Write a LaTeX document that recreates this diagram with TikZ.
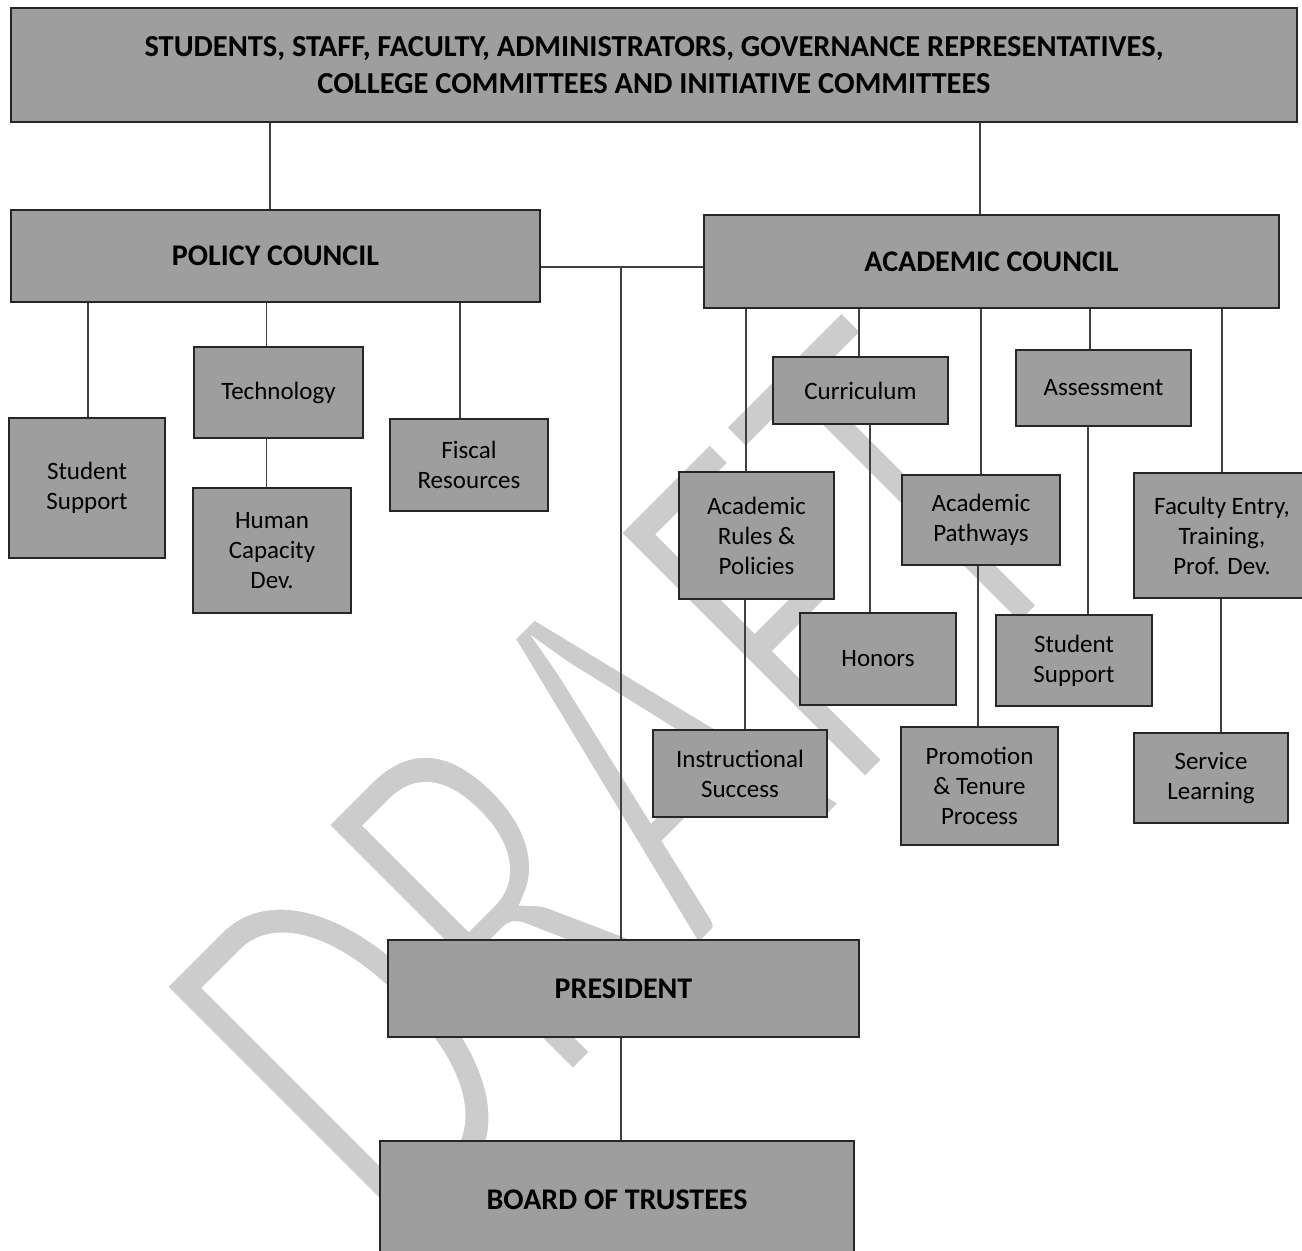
\documentclass[tikz,border=0pt]{standalone}
\usepackage{fontspec}
\usepackage{graphicx}
\setmainfont{Carlito}
\usetikzlibrary{calc}
\definecolor{boxgray}{gray}{0.62}
\definecolor{wmgray}{gray}{0.80}
\begin{document}
\begin{tikzpicture}[x=1pt,y=-1pt,
  box/.style={draw=black!85, line width=2.6pt, fill=boxgray, inner sep=0pt, align=center, text=black},
  lbl/.style={box, font=\fontsize{25}{30}\selectfont},
  head/.style={box, font=\fontsize{30}{37}\selectfont\bfseries},
  conn/.style={draw=black!75, line width=1.2pt},
]
\useasboundingbox (0,0) rectangle (1302,1251);
\fill[white] (0,0) rectangle (1302,1251);
\clip (0,0) rectangle (1302,1251);

% watermark (thin, condensed letters)
\node[text=wmgray, rotate=45, inner sep=0pt] (wm) at (619,779)
  {\fontsize{560}{560}\selectfont\scalebox{0.66}[1]{\special{pdf:literal direct 2 Tr 1 1 1 RG 16 w}DRAFT\special{pdf:literal direct 0 Tr}}};

% boxes
\node[head, font=\fontsize{30.5}{37}\selectfont\bfseries, minimum width=1286pt, minimum height=114pt] (top) at (654,65)
  {STUDENTS, STAFF, FACULTY, ADMINISTRATORS, GOVERNANCE REPRESENTATIVES,\\COLLEGE COMMITTEES AND INITIATIVE COMMITTEES};
\node[head, minimum width=529pt, minimum height=92pt] (policy) at (275.5,256) {POLICY COUNCIL};
\node[head, minimum width=575pt, minimum height=93pt] (academic) at (991.5,261.5) {ACADEMIC COUNCIL};

\node[lbl, minimum width=156pt, minimum height=140pt] (ss1) at (87,488) {Student\\Support};
\node[lbl, minimum width=169pt, minimum height=91pt] (tech) at (278.5,392.5) {Technology};
\node[lbl, minimum width=158pt, minimum height=125pt] (human) at (272,550.5) {Human\\Capacity\\Dev.};
\node[lbl, minimum width=158pt, minimum height=92pt] (fiscal) at (469,465) {Fiscal\\Resources};

\node[lbl, minimum width=175pt, minimum height=67pt] (curr) at (860.5,390.5) {Curriculum};
\node[lbl, minimum width=175pt, minimum height=76pt] (assess) at (1103.5,388) {Assessment};
\node[lbl, minimum width=155pt, minimum height=127pt] (rules) at (756.5,535.5) {Academic\\Rules \&\\Policies};
\node[lbl, minimum width=158pt, minimum height=90pt] (pathw) at (981,520) {Academic\\Pathways};
\node[lbl, minimum width=176pt, minimum height=125pt] (fac) at (1222,535.5) {Faculty Entry,\\Training,\\Prof. Dev.};
\node[lbl, minimum width=156pt, minimum height=92pt] (honors) at (878,659) {Honors};
\node[lbl, minimum width=156pt, minimum height=91pt] (ss2) at (1074,660.5) {Student\\Support};
\node[lbl, minimum width=174pt, minimum height=87pt] (instr) at (740,773.5) {Instructional\\Success};
\node[lbl, minimum width=157pt, minimum height=118pt] (promo) at (979.5,786) {Promotion\\\& Tenure\\Process};
\node[lbl, minimum width=154pt, minimum height=90pt] (service) at (1211,778) {Service\\Learning};

\node[head, minimum width=471pt, minimum height=97pt] (pres) at (623.5,988.5) {PRESIDENT};
\node[head, minimum width=474pt, minimum height=118pt] (board) at (617,1200) {BOARD OF TRUSTEES};

\coordinate (hub) at (621,267);

% connectors
\draw[conn] ([xshift=-5.5pt]policy.north) -- ([xshift=-5.5pt]policy.north |- top.south);
\draw[conn] ([xshift=-11.5pt]academic.north) -- ([xshift=-11.5pt]academic.north |- top.south);
\draw[conn] (policy.east |- hub) -- (academic.west |- hub);
\draw[conn] (hub) -- (hub |- pres.north);
\draw[conn] (pres.south -| hub) -- (board.north -| hub);

\draw[conn] ([xshift=1pt]ss1.north) -- ([xshift=1pt]ss1.north |- policy.south);
\draw[conn] ([xshift=-12pt]tech.north) -- ([xshift=-12pt]tech.north |- policy.south);
\draw[conn] ([xshift=-12pt]tech.south) -- ([xshift=-12pt]tech.south |- human.north);
\draw[conn] ([xshift=-9pt]fiscal.north) -- ([xshift=-9pt]fiscal.north |- policy.south);

\draw[conn] ([xshift=-10.5pt]rules.north) -- ([xshift=-10.5pt]rules.north |- academic.south);
\draw[conn] ([xshift=-1.5pt]curr.north) -- ([xshift=-1.5pt]curr.north |- academic.south);
\draw[conn] (pathw.north) -- (pathw.north |- academic.south);
\draw[conn] ([xshift=-13.5pt]assess.north) -- ([xshift=-13.5pt]assess.north |- academic.south);
\draw[conn] (fac.north) -- (fac.north |- academic.south);
\draw[conn] ([xshift=-8pt]honors.north) -- ([xshift=-8pt]honors.north |- curr.south);
\draw[conn] ([xshift=14pt]ss2.north) -- ([xshift=14pt]ss2.north |- assess.south);
\draw[conn] ([xshift=5pt]instr.north) -- ([xshift=5pt]instr.north |- rules.south);
\draw[conn] ([xshift=-1.5pt]promo.north) -- ([xshift=-1.5pt]promo.north |- pathw.south);
\draw[conn] ([xshift=10pt]service.north) -- ([xshift=10pt]service.north |- fac.south);
\end{tikzpicture}
\end{document}
